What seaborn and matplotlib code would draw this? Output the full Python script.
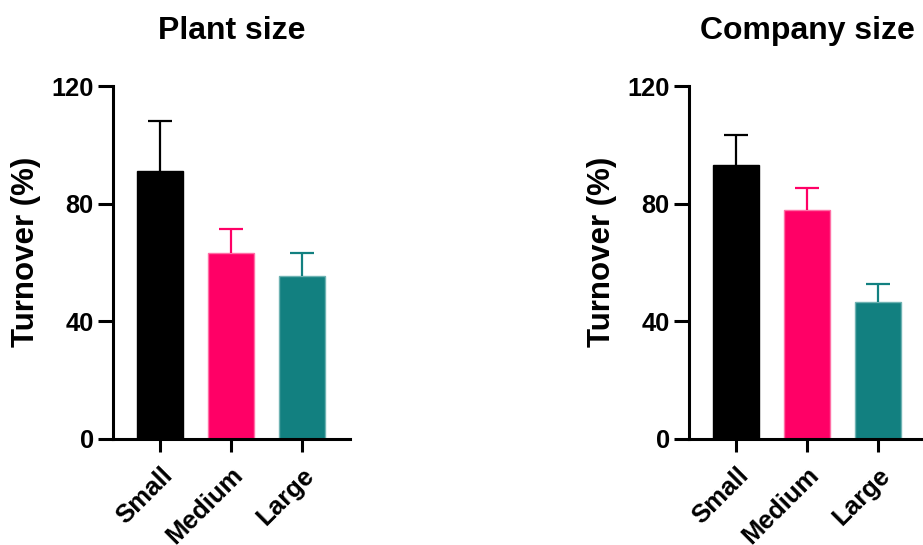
import numpy as np
import pandas as pd
import matplotlib
matplotlib.use("Agg")
import matplotlib.pyplot as plt
import seaborn as sns

categories = ["Small", "Medium", "Large"]
plant_mean = [91.0, 63.2, 55.3]
plant_err = [17.0, 8.2, 8.0]
company_mean = [93.2, 77.7, 46.7]
company_err = [10.2, 7.6, 5.9]
titles = ["Plant size", "Company size"]
yticks = [0, 40, 80, 120]

bar_colors = ["#000000", "#FF0066", "#128080"]
edge_colors = ["#000000", "#FF6FA6", "#6FB3B3"]

sns.set_theme(style="ticks")
plt.rcParams["font.family"] = ["Liberation Sans", "DejaVu Sans"]
plt.rcParams["font.weight"] = "bold"
plt.rcParams["text.color"] = "black"
plt.rcParams["axes.labelcolor"] = "black"
plt.rcParams["xtick.color"] = "black"
plt.rcParams["ytick.color"] = "black"

fig = plt.figure(figsize=(9.23, 5.45), dpi=100)
W, H = 923, 545
ax_w = 237 / W
ax_b = (H - 439) / H
ax_h = (439 - 86) / H
axes = [fig.add_axes([113 / W, ax_b, ax_w, ax_h]),
        fig.add_axes([689 / W, ax_b, ax_w, ax_h])]

datasets = [(plant_mean, plant_err), (company_mean, company_err)]

for ax, (means, errs), title in zip(axes, datasets, titles):
    df = pd.DataFrame({"Size": categories, "Turnover": means})
    sns.barplot(data=df, x="Size", y="Turnover", hue="Size", palette=bar_colors,
                order=categories, hue_order=categories, legend=False,
                width=0.65, errorbar=None, ax=ax, saturation=1)
    for patch, ec in zip(ax.patches, edge_colors):
        patch.set_edgecolor(ec)
        patch.set_linewidth(1.0)
    xs = np.arange(len(categories))
    for i in range(len(categories)):
        eb = ax.errorbar(xs[i], means[i], yerr=[[0], [errs[i]]], fmt="none",
                         ecolor=bar_colors[i], elinewidth=1.6, capsize=8.3,
                         capthick=1.6, zorder=1)
        caps = eb[1]
        if len(caps) > 1:
            caps[0].set_visible(False)
    ax.set_ylim(0, 120)
    ax.set_xlim(-0.662, 2.683)
    ax.set_yticks(yticks)
    ax.set_yticklabels([str(t) for t in yticks], fontsize=18.3, fontweight="bold",
                       color="black")
    ax.set_xticks(xs)
    ax.set_xticklabels(categories, fontsize=18.5, fontweight="bold", rotation=45,
                       ha="right", rotation_mode="anchor", color="black")
    ax.set_xlabel("")
    ax.set_ylabel("Turnover (%)", fontsize=22.5, fontweight="bold", color="black")
    ax.yaxis.set_label_coords(-0.305, 0.53)
    ax.set_title(title, fontsize=23, fontweight="bold", pad=34, color="black")
    sns.despine(ax=ax)
    for s in ["left", "bottom"]:
        ax.spines[s].set_linewidth(2.2)
        ax.spines[s].set_color("black")
    ax.tick_params(axis="y", length=10.8, width=2.2, pad=3, colors="black")
    ax.tick_params(axis="x", length=9.4, width=2.2, pad=8, colors="black")
    ax.set_facecolor("white")

fig.patch.set_facecolor("white")
fig.savefig("out.png", dpi=100, facecolor="white")
